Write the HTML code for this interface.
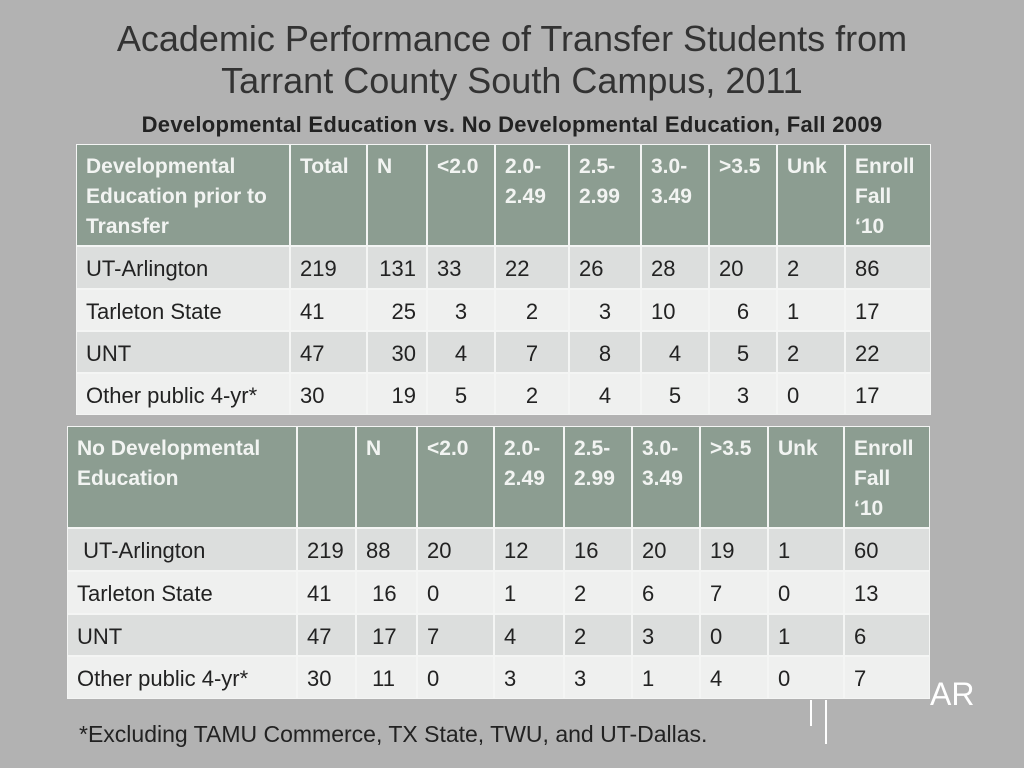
<!DOCTYPE html>
<html><head><style>
body{margin:0;width:1024px;height:768px;background:#b2b2b2;font-family:"Liberation Sans",sans-serif;position:relative;overflow:hidden}
.t{position:absolute;text-align:center;color:#333;width:1024px;left:0}
.g{position:absolute;display:grid;gap:2px;background:#f4f5f4;padding:1px}
.g div{font-size:22px;color:#222;padding:7px 0 0 9px;line-height:30px;box-sizing:border-box;white-space:nowrap}
.g .h{background:#8c9d91;color:#f2f4f2;font-weight:bold;font-size:21px;white-space:nowrap}
.g .a{background:#dcdedd}.g .b{background:#eff0ef}
.r{text-align:right;padding-right:10px!important}
.c{text-align:center;padding-left:0!important}
</style></head><body>
<div class="t" style="top:18px;font-size:36px;line-height:42px">Academic Performance of Transfer Students from<br>Tarrant County South Campus, 2011</div>
<div class="t" style="top:112px;font-size:22px;font-weight:bold;color:#222;letter-spacing:0.3px">Developmental Education vs. No Developmental Education, Fall 2009</div>

<div class="g" style="left:76px;top:144px;grid-template-columns:212px 75px 58px 66px 72px 70px 66px 66px 66px 84px;grid-template-rows:100px 41px 40px 40px 40px">
<div class="h">Developmental<br>Education prior to<br>Transfer</div><div class="h">Total</div><div class="h">N</div><div class="h">&lt;2.0</div><div class="h">2.0-<br>2.49</div><div class="h">2.5-<br>2.99</div><div class="h">3.0-<br>3.49</div><div class="h">&gt;3.5</div><div class="h">Unk</div><div class="h">Enroll<br>Fall<br>‘10</div>
<div class="a">UT-Arlington</div><div class="a">219</div><div class="a r">131</div><div class="a">33</div><div class="a">22</div><div class="a">26</div><div class="a">28</div><div class="a">20</div><div class="a">2</div><div class="a">86</div>
<div class="b">Tarleton State</div><div class="b">41</div><div class="b r">25</div><div class="b c">3</div><div class="b c">2</div><div class="b c">3</div><div class="b">10</div><div class="b c">6</div><div class="b">1</div><div class="b">17</div>
<div class="a">UNT</div><div class="a">47</div><div class="a r">30</div><div class="a c">4</div><div class="a c">7</div><div class="a c">8</div><div class="a c">4</div><div class="a c">5</div><div class="a">2</div><div class="a">22</div>
<div class="b">Other public 4-yr*</div><div class="b">30</div><div class="b r">19</div><div class="b c">5</div><div class="b c">2</div><div class="b c">4</div><div class="b c">5</div><div class="b c">3</div><div class="b">0</div><div class="b">17</div>
</div>

<div class="g" style="left:67px;top:426px;grid-template-columns:228px 57px 59px 75px 68px 66px 66px 66px 74px 84px;grid-template-rows:100px 41px 41px 40px 41px">
<div class="h">No Developmental<br>Education</div><div class="h"></div><div class="h">N</div><div class="h">&lt;2.0</div><div class="h">2.0-<br>2.49</div><div class="h">2.5-<br>2.99</div><div class="h">3.0-<br>3.49</div><div class="h">&gt;3.5</div><div class="h">Unk</div><div class="h">Enroll<br>Fall<br>‘10</div>
<div class="a">&nbsp;UT-Arlington</div><div class="a">219</div><div class="a">88</div><div class="a">20</div><div class="a">12</div><div class="a">16</div><div class="a">20</div><div class="a">19</div><div class="a">1</div><div class="a">60</div>
<div class="b">Tarleton State</div><div class="b">41</div><div class="b">&nbsp;16</div><div class="b">0</div><div class="b">1</div><div class="b">2</div><div class="b">6</div><div class="b">7</div><div class="b">0</div><div class="b">13</div>
<div class="a">UNT</div><div class="a">47</div><div class="a">&nbsp;17</div><div class="a">7</div><div class="a">4</div><div class="a">2</div><div class="a">3</div><div class="a">0</div><div class="a">1</div><div class="a">6</div>
<div class="b">Other public 4-yr*</div><div class="b">30</div><div class="b">&nbsp;11</div><div class="b">0</div><div class="b">3</div><div class="b">3</div><div class="b">1</div><div class="b">4</div><div class="b">0</div><div class="b">7</div>
</div>

<div style="position:absolute;left:810px;top:700px;width:2px;height:26px;background:#fff"></div>
<div style="position:absolute;left:825px;top:700px;width:2px;height:44px;background:#fff"></div>
<div style="position:absolute;left:930px;top:676px;font-size:32px;color:#fff">AR</div>
<div style="position:absolute;left:79px;top:721px;font-size:23px;color:#222">*Excluding TAMU Commerce, TX State, TWU, and UT-Dallas.</div>
</body></html>
